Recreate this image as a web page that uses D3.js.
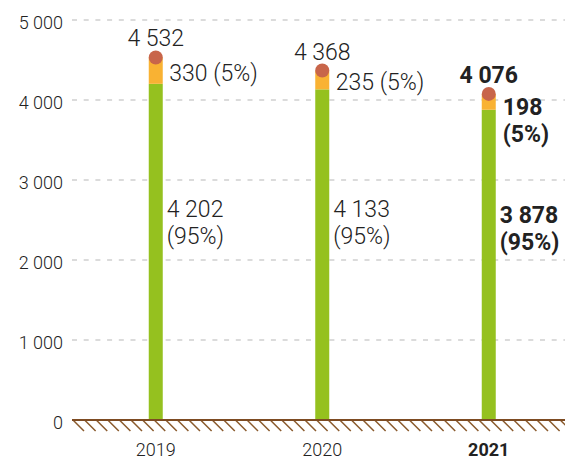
<!DOCTYPE html>
<html>
<head>
<meta charset="utf-8">
<script src="https://cdn.jsdelivr.net/npm/d3@7"></script>
<style>
  html, body { margin: 0; padding: 0; background: #fff; }
  text { font-family: Roboto, "Noto Sans", sans-serif; fill: #222; }
</style>
</head>
<body>
<svg id="chart" width="565" height="460"></svg>
<script>
const years = ["2019", "2020", "2021"];
const totals = [4532, 4368, 4076];
const baseValues = [4202, 4133, 3878];
const topValues = [330, 235, 198];
const basePct = ["95%", "95%", "95%"];
const topPct = ["5%", "5%", "5%"];
const yTicks = [0, 1000, 2000, 3000, 4000, 5000];
const highlightYear = "2021";

const locale = d3.formatLocale({ decimal: ",", thousands: " ", grouping: [3], currency: ["", ""] });
const fmt = locale.format(",d");

const W = 565, H = 460;
const svg = d3.select("#chart");

const x = d3.scaleBand().domain(years).range([72.5, 572]);
const y = d3.scaleLinear().domain([0, 5000]).range([420, 20]);
const cx = d => x(d) + x.bandwidth() / 2;

const green = "#95c11f", orange = "#f9b233", dot = "#c8654a", brown = "#7d4b22";
const barW = 14;
const valueFont = 23;
const lineH = 27;

// gridlines
svg.append("g").selectAll("line")
  .data(yTicks.filter(t => t > 0))
  .join("line")
  .attr("x1", 72).attr("x2", W)
  .attr("y1", d => y(d)).attr("y2", d => y(d))
  .attr("stroke", "#cfcfcf").attr("stroke-width", 1.5)
  .attr("stroke-dasharray", "5,6.7");

// y axis labels
const yAxis = d3.axisLeft(y).tickValues(yTicks).tickFormat(fmt).tickSize(0).tickPadding(0);
const gy = svg.append("g").attr("transform", "translate(63,0)").call(yAxis);
gy.select(".domain").remove();
gy.selectAll("text")
  .attr("dy", null).attr("y", 8.5)
  .style("font-family", "Roboto, sans-serif")
  .style("font-size", "18px").style("font-weight", 300).attr("fill", "#333");

// bars
const rows = years.map((yr, i) => ({ yr, total: totals[i], base: baseValues[i], top: topValues[i], bp: basePct[i], tp: topPct[i], hl: yr === highlightYear }));

svg.append("g").selectAll("rect.base")
  .data(rows).join("rect")
  .attr("x", d => cx(d.yr) - barW / 2).attr("width", barW)
  .attr("y", d => y(d.base)).attr("height", d => y(0) - y(d.base))
  .attr("fill", green);

svg.append("g").selectAll("rect.top")
  .data(rows).join("rect")
  .attr("x", d => cx(d.yr) - barW / 2).attr("width", barW)
  .attr("y", d => y(d.base + d.top)).attr("height", d => y(d.base) - y(d.base + d.top))
  .attr("fill", orange);

svg.append("g").selectAll("circle")
  .data(rows).join("circle")
  .attr("cx", d => cx(d.yr)).attr("cy", d => y(d.total)).attr("r", 7)
  .attr("fill", dot);

// baseline + hatching
const hatch = svg.append("g");
hatch.selectAll("line")
  .data(d3.range(73, W + 12, 11.6))
  .join("line")
  .attr("x1", d => d).attr("y1", y(0))
  .attr("x2", d => d + 11).attr("y2", y(0) + 11)
  .attr("stroke", "#8a5a2c").attr("stroke-width", 1.5);
svg.append("line")
  .attr("x1", 72).attr("x2", W).attr("y1", y(0)).attr("y2", y(0))
  .attr("stroke", brown).attr("stroke-width", 2.2);

// x labels
const xAxis = d3.axisBottom(x).tickSize(0).tickPadding(0);
const gx = svg.append("g").attr("transform", `translate(0,${y(0)})`).call(xAxis);
gx.select(".domain").remove();
gx.selectAll("text")
  .attr("dy", null).attr("y", 35.5)
  .style("font-family", "Roboto, sans-serif")
  .style("font-size", "18px")
  .style("font-weight", d => d === highlightYear ? 700 : 300)
  .attr("fill", d => d === highlightYear ? "#111" : "#333");

// value labels
const labels = svg.append("g").style("font-size", valueFont + "px");
const wt = d => d.hl ? 700 : 300;

// totals
labels.selectAll("text.total")
  .data(rows).join("text")
  .attr("x", d => cx(d.yr)).attr("y", d => y(d.total) - 11)
  .attr("text-anchor", "middle")
  .style("font-weight", wt)
  .text(d => fmt(d.total));

// top segment labels
rows.forEach(d => {
  const mid = (y(d.total) + y(d.base)) / 2;
  const t = labels.append("text")
    .attr("x", cx(d.yr) + 13.5)
    .style("font-weight", wt(d));
  if (d.hl) {
    t.attr("y", mid + 13);
    t.append("tspan").attr("x", cx(d.yr) + 14).text(fmt(d.top));
    t.append("tspan").attr("x", cx(d.yr) + 14).attr("dy", lineH).text(`(${d.tp})`);
  } else {
    t.attr("y", mid + 10).text(`${fmt(d.top)} (${d.tp})`);
  }
});

// base segment labels
rows.forEach(d => {
  const t = labels.append("text")
    .attr("y", y(2535) + (d.hl ? 6 : 0))
    .style("font-weight", wt(d));
  t.append("tspan").attr("x", cx(d.yr) + 11).text(fmt(d.base));
  t.append("tspan").attr("x", cx(d.yr) + 11).attr("dy", lineH).text(`(${d.bp})`);
});
</script>
</body>
</html>
